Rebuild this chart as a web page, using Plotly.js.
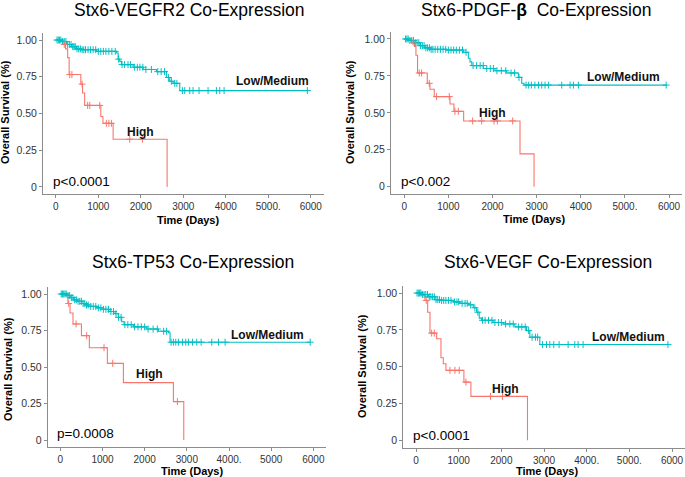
<!DOCTYPE html>
<html>
<head>
<meta charset="utf-8">
<script src="https://cdn.plot.ly/plotly-3.0.1.min.js"></script>
<style>html,body{margin:0;padding:0;background:#fff}#chart{width:685px;height:477px}</style>
</head>
<body>
<div id="chart"></div>
<script>
// ---------- DATA ----------
const panelTitles = ["Stx6-VEGFR2 Co-Expression", "Stx6-PDGF-<b>\u03b2</b>\u00a0\u00a0Co-Expression", "Stx6-TP53 Co-Expression", "Stx6-VEGF Co-Expression"];
const pValues = ["p<0.0001", "p<0.002", "p=0.0008", "p<0.0001"];
const groupNames = ["Low/Medium", "High"];
const yTickVals = [0, 0.25, 0.5, 0.75, 1];
const yTickText = ["0", "0.25", "0.50", "0.75", "1.00"];
const xTickVals = [0, 1000, 2000, 3000, 4000, 5000, 6000];
const xTickText1 = ["0", "1000", "2000", "3000", "4000", "5000.", "6000"];
const xTickText2 = ["0", "1000", "2000", "3000", "4000", "5000.", "6000"];
const xTickText3 = ["0", "1000", "2000", "3000", "4000.", "5000", "6000"];
const xTickText4 = ["0", "1000", "2000", "3000", "4000.", "5000.", "6000"];

// Panel 1: VEGFR2
const p1HighT = [0, 170, 230, 280, 315, 590, 630, 680, 1060, 1110, 1350, 2620];
const p1HighS = [1, 0.97, 0.94, 0.88, 0.765, 0.70, 0.64, 0.555, 0.48, 0.433, 0.325, 0];
const p1HighCens = [200, 330, 380, 620, 750, 800, 1035, 1190, 1250, 1310, 1741, 2040];
const p1LowT = [0, 133, 251, 369, 486, 604, 957, 1427, 1467, 1506, 1545, 1820, 2055, 2369, 2604, 2682, 2761, 2918, 5920];
const p1LowS = [1, 0.99, 0.97, 0.955, 0.94, 0.934, 0.923, 0.912, 0.87, 0.855, 0.833, 0.815, 0.80, 0.785, 0.745, 0.72, 0.705, 0.656, 0.656];
const p1LowCens = [30, 60, 90, 120, 160, 200, 240, 280, 320, 360, 400, 430, 460, 500, 540, 580, 620, 660, 700, 760, 820, 880, 940, 1000, 1060, 1120, 1180, 1250, 1320, 1400, 1480, 1560, 1620, 1700, 1760, 1850, 1920, 1980, 2050, 2120, 2250, 2400, 2480, 2560, 2650, 2720, 2800, 2850, 2980, 3035, 3153, 3231, 3372, 3584, 3780, 3859, 3961, 5920];

// Panel 2: PDGF-beta
const p2HighT = [0, 151, 230, 265, 302, 522, 582, 680, 1036, 1126, 1346, 2623, 2941];
const p2HighS = [1, 0.98, 0.95, 0.89, 0.77, 0.70, 0.66, 0.61, 0.56, 0.51, 0.445, 0.222, 0];
const p2HighCens = [200, 340, 393, 567, 733, 1020, 1149, 1225, 1550, 1754, 2034, 2109, 2457];
const p2LowT = [0, 91, 242, 355, 468, 600, 960, 1338, 1452, 1490, 1530, 1792, 2056, 2321, 2586, 2661, 2714, 5950];
const p2LowS = [1, 0.99, 0.975, 0.955, 0.94, 0.93, 0.925, 0.91, 0.87, 0.845, 0.82, 0.80, 0.785, 0.77, 0.74, 0.70, 0.688, 0.688];
const p2LowCens = [30, 60, 90, 130, 170, 210, 250, 290, 330, 370, 410, 450, 490, 530, 570, 610, 650, 700, 760, 820, 880, 940, 1000, 1060, 1120, 1180, 1250, 1320, 1400, 1560, 1640, 1720, 1790, 1870, 1950, 2020, 2100, 2200, 2300, 2420, 2500, 2600, 2760, 2820, 2880, 2960, 3040, 3115, 3190, 3266, 3568, 3757, 3833, 3946, 5934];

// Panel 3: TP53
const p3HighT = [0, 180, 230, 300, 500, 688, 1115, 1495, 2681, 2927];
const p3HighS = [1, 0.935, 0.87, 0.795, 0.715, 0.632, 0.525, 0.393, 0.263, 0];
const p3HighCens = [198, 372, 625, 1036, 1242, 2776];
const p3LowT = [0, 150, 245, 324, 403, 506, 585, 664, 862, 1020, 1178, 1297, 1376, 1455, 1511, 1732, 2049, 2326, 2563, 2602, 5925];
const p3LowS = [1, 0.99, 0.975, 0.96, 0.95, 0.935, 0.925, 0.915, 0.905, 0.895, 0.88, 0.865, 0.84, 0.81, 0.79, 0.775, 0.76, 0.745, 0.735, 0.67, 0.67];
const p3LowCens = [20, 50, 80, 110, 140, 180, 220, 260, 300, 340, 380, 420, 460, 500, 540, 580, 620, 660, 720, 780, 840, 900, 960, 1020, 1080, 1140, 1200, 1260, 1320, 1380, 1440, 1530, 1600, 1680, 1760, 1840, 1920, 2000, 2080, 2200, 2300, 2450, 2520, 2626, 2681, 2737, 2800, 2895, 2974, 3037, 3132, 3235, 3338, 3591, 3749, 3907, 5925];

// Panel 4: VEGF
const p4HighT = [0, 117, 210, 273, 328, 484, 585, 640, 702, 1123, 1287, 2613];
const p4HighS = [1, 0.985, 0.95, 0.87, 0.728, 0.69, 0.56, 0.52, 0.475, 0.395, 0.298, 0];
const p4HighCens = [240, 367, 429, 796, 913, 1014, 1170, 1747, 2028];
const p4LowT = [0, 133, 289, 445, 562, 874, 1030, 1225, 1342, 1420, 1482, 1537, 1810, 2044, 2317, 2590, 2668, 2902, 5905];
const p4LowS = [1, 0.99, 0.975, 0.955, 0.95, 0.94, 0.93, 0.92, 0.90, 0.87, 0.83, 0.815, 0.80, 0.79, 0.77, 0.745, 0.70, 0.65, 0.65];
const p4LowCens = [25, 55, 85, 115, 150, 190, 230, 270, 310, 350, 390, 430, 470, 510, 550, 600, 650, 700, 760, 820, 900, 960, 1000, 1080, 1150, 1200, 1280, 1380, 1450, 1560, 1620, 1700, 1780, 1850, 1930, 2000, 2100, 2200, 2280, 2400, 2480, 2560, 2640, 2720, 2800, 2850, 2964, 3058, 3136, 3229, 3354, 3565, 3721, 3799, 3916, 5905];

// ---------- LAYOUT GEOMETRY ----------
const W = 685, H = 477;
const RED = "#F8766D", TEAL = "#00BFC4";
const FONT = "Liberation Sans, Arial, Helvetica, sans-serif";

const panels = [
  {hT: p1HighT, hS: p1HighS, hC: p1HighCens, lT: p1LowT, lS: p1LowS, lC: p1LowCens, ticks: xTickText1,
   dom: {x0: 43, x1: 323.5, y0: 194.3, y1: 32.7},
   title: [189, 10], xt: [188, 220], yt: [5, 112], lowLab: [5106, 0.721], highLab: [2000, 0.374], p: [-118, 0.034]},
  {hT: p2HighT, hS: p2HighS, hC: p2HighCens, lT: p2LowT, lS: p2LowS, lC: p2LowCens, ticks: xTickText2,
   dom: {x0: 391, x1: 682.3, y0: 194.1, y1: 31.6},
   title: [536, 10], xt: [534, 219], yt: [350, 112], lowLab: [4974, 0.745], highLab: [1996, 0.50], p: [-121, 0.034]},
  {hT: p3HighT, hS: p3HighS, hC: p3HighCens, lT: p3LowT, lS: p3LowS, lC: p3LowCens, ticks: xTickText3,
   dom: {x0: 47.7, x1: 326, y0: 447.3, y1: 286.7},
   title: [193, 262], xt: [192, 471], yt: [8, 369], lowLab: [4904, 0.719], highLab: [2104, 0.45], p: [-119, 0.046]},
  {hT: p4HighT, hS: p4HighS, hC: p4HighCens, lT: p4LowT, lS: p4LowS, lC: p4LowCens, ticks: xTickText4,
   dom: {x0: 403.2, x1: 684.8, y0: 447.6, y1: 285.7},
   title: [548, 262], xt: [547, 471], yt: [362, 366], lowLab: [4976, 0.699], highLab: [2098, 0.347], p: [-117, 0.032]}
];

function survAt(T, S, t) {
  let v = S[0];
  for (let i = 0; i < T.length; i++) { if (T[i] <= t) v = S[i]; else break; }
  return v;
}

const traces = [];
const layout = {
  width: W, height: H, margin: {l: 0, r: 0, t: 0, b: 0},
  paper_bgcolor: "#fff", plot_bgcolor: "#fff", showlegend: false,
  font: {family: FONT, color: "#000"},
  annotations: []
};

panels.forEach((p, i) => {
  const n = i + 1;
  const xa = "x" + (n === 1 ? "" : n), ya = "y" + (n === 1 ? "" : n);
  const xk = "xaxis" + (n === 1 ? "" : n), yk = "yaxis" + (n === 1 ? "" : n);
  traces.push({x: p.lT, y: p.lS, type: "scatter", mode: "lines", line: {shape: "hv", color: TEAL, width: 1.1}, xaxis: xa, yaxis: ya, name: groupNames[0]});
  traces.push({x: p.hT, y: p.hS, type: "scatter", mode: "lines", line: {shape: "hv", color: RED, width: 1.1}, xaxis: xa, yaxis: ya, name: groupNames[1]});
  traces.push({x: p.lC, y: p.lC.map(t => survAt(p.lT, p.lS, t)), type: "scatter", mode: "markers",
    marker: {symbol: "cross-thin", size: 5, color: TEAL, line: {color: TEAL, width: 1}}, xaxis: xa, yaxis: ya, hoverinfo: "skip"});
  traces.push({x: p.hC, y: p.hC.map(t => survAt(p.hT, p.hS, t)), type: "scatter", mode: "markers",
    marker: {symbol: "cross-thin", size: 5, color: RED, line: {color: RED, width: 1}}, xaxis: xa, yaxis: ya, hoverinfo: "skip"});

  const axCommon = {showgrid: false, zeroline: false, showline: true, linecolor: "#8c8c8c", linewidth: 1,
    ticks: "outside", ticklen: 3, tickcolor: "#8c8c8c", tickwidth: 1, fixedrange: true};
  layout[xk] = Object.assign({}, axCommon, {
    domain: [p.dom.x0 / W, p.dom.x1 / W], range: [-300, 6300], anchor: ya,
    tickfont: {family: FONT, size: 10, color: "#333"},
    tickmode: "array", tickvals: xTickVals, ticktext: p.ticks});
  layout[yk] = Object.assign({}, axCommon, {
    domain: [1 - p.dom.y0 / H, 1 - p.dom.y1 / H], range: [-0.05, 1.05], anchor: xa,
    tickfont: {family: FONT, size: 10.5, color: "#333"},
    tickmode: "array", tickvals: yTickVals, ticktext: yTickText});

  const A = layout.annotations;
  A.push({text: panelTitles[i], xref: "paper", yref: "paper", x: p.title[0] / W, y: 1 - p.title[1] / H,
    xanchor: "center", yanchor: "middle", showarrow: false, font: {size: 17.5, color: "#000"}});
  A.push({text: "<b>Time (Days)</b>", xref: "paper", yref: "paper", x: p.xt[0] / W, y: 1 - p.xt[1] / H,
    xanchor: "center", yanchor: "middle", showarrow: false, font: {size: 11, color: "#000"}});
  A.push({text: "<b>Overall Survival (%)</b>", xref: "paper", yref: "paper", x: p.yt[0] / W, y: 1 - p.yt[1] / H,
    xanchor: "center", yanchor: "middle", textangle: -90, showarrow: false, font: {size: 11, color: "#000"}});
  A.push({text: "<b>" + groupNames[0] + "</b>", xref: xa, yref: ya, x: p.lowLab[0], y: p.lowLab[1],
    xanchor: "center", yanchor: "middle", showarrow: false, font: {size: 12, color: "#111"}});
  A.push({text: "<b>" + groupNames[1] + "</b>", xref: xa, yref: ya, x: p.highLab[0], y: p.highLab[1],
    xanchor: "center", yanchor: "middle", showarrow: false, font: {size: 12, color: "#111"}});
  A.push({text: pValues[i].replace("<", "&lt;"), xref: xa, yref: ya, x: p.p[0], y: p.p[1],
    xanchor: "left", yanchor: "middle", showarrow: false, font: {size: 13.5, color: "#000"}});
});

Plotly.newPlot("chart", traces, layout, {staticPlot: true, displayModeBar: false});
</script>
</body>
</html>
